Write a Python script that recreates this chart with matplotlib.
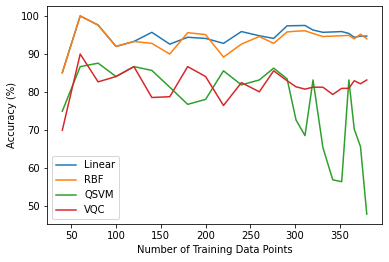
import matplotlib.pyplot as plt

# Numero de puntos de entrenamiento
n_train = [40, 60, 80, 100, 120, 140, 160, 180, 200, 220, 240, 260,
           276, 291, 301, 311, 320, 331, 342, 352, 360, 366, 373, 380]

# Precision (%) de cada modelo
linear = [85.1, 100.0, 97.6, 92.0, 93.3, 95.7, 92.6, 94.4, 94.1, 92.8, 95.9, 94.8,
          94.1, 97.4, 97.45, 97.5, 96.3, 95.7, 95.8, 95.9, 95.4, 94.4, 94.7, 94.7]
rbf = [85.1, 100.0, 97.6, 92.0, 93.3, 92.8, 90.0, 95.6, 95.1, 89.2, 92.6, 94.6,
       92.8, 95.8, 96.0, 96.1, 95.4, 94.6, 94.7, 94.8, 94.9, 94.0, 95.2, 94.0]
qsvm = [75.0, 86.7, 87.6, 84.1, 86.7, 85.7, 81.3, 76.8, 78.1, 85.6, 81.9, 83.2,
        86.3, 83.5, 72.7, 68.6, 83.2, 65.5, 57.0, 56.5, 83.2, 70.3, 65.7, 48.0]
vqc = [70.0, 90.0, 82.7, 84.1, 86.7, 78.6, 78.8, 86.7, 84.1, 76.5, 82.5, 80.1,
       85.6, 83.0, 81.4, 80.8, 81.3, 81.3, 79.4, 81.0, 81.0, 83.0, 82.2, 83.2]

plt.rcParams['font.size'] = 10
fig = plt.figure(figsize=(389/72, 262/72), dpi=72)
fig.subplots_adjust(left=0.121, right=0.982, top=0.977, bottom=0.145)

plt.plot(n_train, linear, label='Linear')
plt.plot(n_train, rbf, label='RBF')
plt.plot(n_train, qsvm, label='QSVM')
plt.plot(n_train, vqc, label='VQC')
plt.xlabel('Number of Training Data Points')
plt.ylabel('Accuracy (%)')
plt.legend(loc='lower left')

plt.savefig('out.png', dpi=72)
